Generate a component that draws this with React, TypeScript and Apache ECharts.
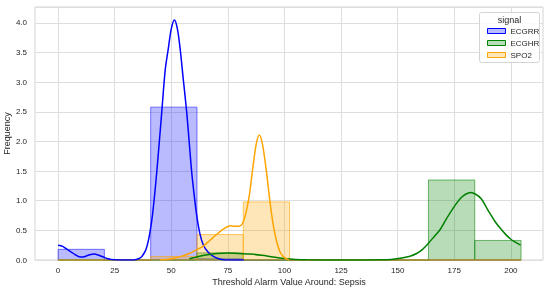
import React, { useEffect, useRef } from "react";
import * as echarts from "echarts";

const FONT = "'Liberation Sans', Arial, sans-serif";

const xTicks = [0, 25, 50, 75, 100, 125, 150, 175, 200];
const binEdges = [0, 20.45, 40.9, 61.35, 81.8, 102.25, 122.7, 143.15, 163.6, 184.05, 204.5];
const ecgrrHeights = [0.18, 0, 2.58, 0.02, 0, 0, 0, 0, 0, 0];
const ecghrHeights = [0, 0, 0, 0.12, 0, 0, 0, 0, 1.35, 0.33];
const spo2Heights = [0, 0, 0.06, 0.43, 0.98, 0, 0, 0, 0, 0];

const ecgrrKde: [number, number][] = [
  [0, 0.25], [2, 0.23], [4, 0.18], [6, 0.13], [8, 0.08], [10, 0.05], [12, 0.06], [14, 0.09],
  [16, 0.1], [18, 0.08], [20, 0.05], [22, 0.02], [25, 0.003], [30, 0], [34, 0.005], [36, 0.03],
  [37, 0.06], [38.5, 0.15], [39.4, 0.25], [40.5, 0.45], [41.7, 0.76], [43.6, 1.49], [45.8, 2.5],
  [47.3, 3.2], [48.7, 3.57], [50, 3.9], [51.4, 4.05], [52.7, 3.9], [53.9, 3.57], [55.3, 3.05],
  [56.8, 2.5], [58, 1.95], [59, 1.49], [60.1, 1.1], [61.2, 0.76], [62.6, 0.45], [64.2, 0.25],
  [66.3, 0.13], [68.6, 0.06], [71, 0.02], [73, 0.005], [75, 0], [82, 0],
];
const ecghrKde: [number, number][] = [
  [58, 0.02], [62, 0.06], [66, 0.09], [70, 0.11], [75, 0.12], [80, 0.11], [85, 0.1], [90, 0.08],
  [95, 0.05], [100, 0.025], [105, 0.01], [110, 0.003], [118, 0], [135, 0], [142, 0.003],
  [147, 0.01], [151, 0.03], [155, 0.06], [158.4, 0.11], [161, 0.18], [163.5, 0.28], [166, 0.39],
  [168.7, 0.51], [171, 0.66], [173.1, 0.79], [175.5, 0.93], [178, 1.05], [180, 1.11],
  [182.2, 1.14], [184.5, 1.11], [187, 1.03], [189, 0.9], [190.7, 0.79], [193, 0.65],
  [195.9, 0.51], [198, 0.42], [200, 0.35], [202, 0.3], [204.3, 0.25],
];
const spo2Kde: [number, number][] = [
  [45, 0], [48, 0.01], [51, 0.03], [55, 0.07], [58, 0.11], [61, 0.17], [64, 0.23], [67, 0.33],
  [70, 0.43], [73, 0.52], [76, 0.58], [78, 0.57], [80, 0.57], [81.5, 0.62], [83, 0.8],
  [84.5, 1.1], [86, 1.55], [87.5, 1.95], [88.9, 2.11], [90.3, 1.95], [92, 1.5], [93.6, 0.98],
  [95, 0.6], [96.5, 0.32], [98, 0.14], [100, 0.04], [102, 0],
];

const signals = ["ECGRR", "ECGHR", "SPO2"];
const colors = ["#0000ff", "#008000", "#ffa500"];
const fills = ["rgba(0,0,255,0.27)", "rgba(0,128,0,0.28)", "rgba(255,165,0,0.28)"];
const edges = ["rgba(0,0,255,0.5)", "rgba(0,128,0,0.55)", "rgba(255,165,0,0.6)"];
const heights = [ecgrrHeights, ecghrHeights, spo2Heights];
const kdes = [ecgrrKde, ecghrKde, spo2Kde];

export default function App() {
  const ref = useRef<HTMLDivElement>(null);
  useEffect(() => {
    if (!ref.current) return;
    const chart = echarts.init(ref.current, null, { renderer: "svg" });
    const barSeries = signals.map((name, i) => ({
      name,
      type: "custom",
      z: 2,
      data: heights[i].map((h, k) => [binEdges[k], binEdges[k + 1], h]),
      encode: { x: [0, 1], y: 2 },
      renderItem: (_p: any, api: any) => {
        const p0 = api.coord([api.value(0), api.value(2)]);
        const p1 = api.coord([api.value(1), 0]);
        return {
          type: "rect",
          shape: { x: p0[0], y: p0[1], width: p1[0] - p0[0], height: p1[1] - p0[1] },
          style: { fill: fills[i], stroke: edges[i], lineWidth: 1 },
        };
      },
    }));
    const kdeSeries = signals.map((name, i) => ({
      name: name + " kde",
      type: "line",
      z: 5,
      data: kdes[i],
      smooth: 0.3,
      symbol: "none",
      lineStyle: { color: colors[i], width: 1.5 },
      itemStyle: { color: colors[i] },
    }));
    const gridSeries = {
      name: "xgrid",
      type: "line",
      data: [],
      silent: true,
      z: 0,
      markLine: {
        z: 0,
        silent: true,
        symbol: "none",
        label: { show: false },
        lineStyle: { color: "#dedede", width: 1, type: "solid" },
        data: xTicks.map((v) => ({ xAxis: v })),
      },
    };
    chart.setOption({
      animation: false,
      grid: {
        left: 35, right: 7, top: 7, bottom: 30,
        outerBoundsMode: "none", containLabel: false,
        show: true, borderColor: "#d4d4d4", borderWidth: 1, backgroundColor: "#ffffff",
      },
      xAxis: {
        type: "value", min: -10.2, max: 214.2,
        name: "Threshold Alarm Value Around: Sepsis", nameLocation: "middle", nameGap: 17,
        nameMoveOverlap: false,
        nameTextStyle: { fontSize: 9, color: "#262626", fontFamily: FONT },
        axisLine: { show: false },
        axisTick: { show: false, customValues: xTicks },
        axisLabel: {
          fontSize: 8, color: "#262626", fontFamily: FONT, margin: 6,
          customValues: xTicks,
        },
        splitLine: { show: false },
      },
      yAxis: {
        type: "value", min: 0, max: 4.27, interval: 0.5,
        name: "Frequency", nameLocation: "middle", nameGap: 24, nameRotate: 90,
        nameMoveOverlap: false,
        nameTextStyle: { fontSize: 9, color: "#262626", fontFamily: FONT },
        axisLine: { show: false }, axisTick: { show: false },
        axisLabel: {
          fontSize: 8, color: "#262626", fontFamily: FONT, margin: 8,
          formatter: (v: number) => (Math.abs(v * 2 - Math.round(v * 2)) < 1e-6 ? v.toFixed(1) : ""),
        },
        splitLine: { show: true, lineStyle: { color: "#dedede", width: 1 } },
      },
      legend: {
        orient: "vertical", left: 482, top: 22, itemWidth: 18, itemHeight: 5, itemGap: 4,
        icon: "rect", selectedMode: false,
        textStyle: { fontSize: 8, color: "#262626", fontFamily: FONT },
        data: signals.map((name, i) => ({
          name,
          itemStyle: { color: fills[i], borderColor: colors[i], borderWidth: 1, opacity: 1 },
        })),
        z: 20,
      },
      graphic: [
        {
          type: "rect", z: 15, shape: { x: 479.5, y: 12.5, width: 60, height: 50, r: 2 },
          style: { fill: "rgba(255,255,255,0.85)", stroke: "#d4d4d4", lineWidth: 1 },
        },
        {
          type: "text", z: 16, x: 509.5, y: 20,
          style: { text: "signal", fontSize: 9, fill: "#262626", fontFamily: FONT, align: "center", verticalAlign: "middle" },
        },
      ],
      series: [gridSeries, ...barSeries, ...kdeSeries],
    });
    return () => chart.dispose();
  }, []);
  return <div ref={ref} style={{ position: "fixed", left: 0, top: 0, width: 550, height: 290 }} />;
}
